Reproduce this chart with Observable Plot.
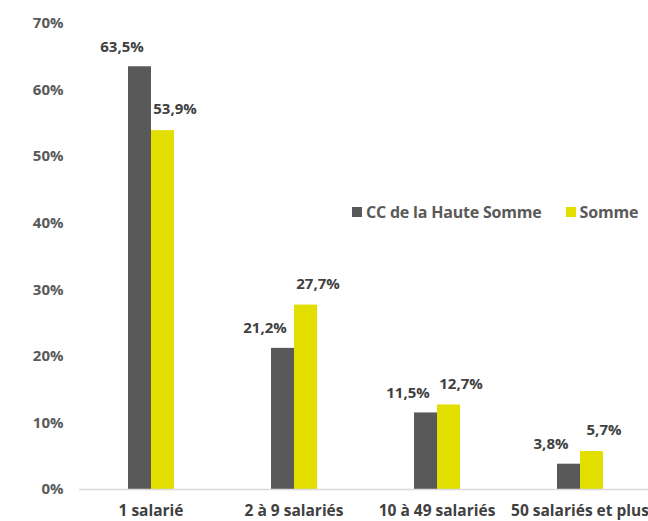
<!DOCTYPE html>
<html>
<head>
<meta charset="utf-8">
<script src="https://cdn.jsdelivr.net/npm/d3@7"></script>
<script src="https://cdn.jsdelivr.net/npm/@observablehq/plot@0.6"></script>
<style>
  body { margin: 0; background: #fff; }
  #wrap { position: relative; width: 648px; height: 521px; font-family: "Open Sans", Lato, sans-serif; }
  .legend { position: absolute; top: 201px; left: 352px; display: flex; align-items: center; font-weight: bold; font-size: 16px; line-height: 22px; color: #595959; white-space: nowrap; letter-spacing: -0.2px; }
  .legend .sw { display: inline-block; width: 10px; height: 10px; margin-right: 4px; }
  .legend .item { display: flex; align-items: center; }
</style>
</head>
<body>
<div id="wrap"></div>
<script>
const categories = ["1 salarié", "2 à 9 salariés", "10 à 49 salariés", "50 salariés et plus"];
const series = ["CC de la Haute Somme", "Somme"];
const ccValues = [63.5, 21.2, 11.5, 3.8];
const sommeValues = [53.9, 27.7, 12.7, 5.7];
const colors = ["#595959", "#e2de00"];
const yTicks = [0, 10, 20, 30, 40, 50, 60, 70];

const data = [];
categories.forEach((c, i) => {
  data.push({category: c, series: series[0], value: ccValues[i]});
  data.push({category: c, series: series[1], value: sommeValues[i]});
});
const fmt = v => v.toFixed(1).replace(".", ",") + "%";

const chart = Plot.plot({
  width: 648,
  height: 521,
  marginLeft: 78,
  marginRight: 0,
  marginTop: 23,
  marginBottom: 32,
  style: {fontFamily: "'Open Sans', Lato, sans-serif", fontSize: "15px", fontWeight: "bold", color: "#595959", background: "#fff", overflow: "visible"},
  fx: {domain: categories, range: [78, 652], padding: 0, label: null, axis: null},
  x: {domain: series, paddingInner: 0, paddingOuter: 2, axis: null},
  y: {domain: [0, 70], ticks: yTicks, label: null},
  color: {domain: series, range: colors},
  marks: [
    Plot.axisY({ticks: yTicks, tickSize: 0, tickPadding: 16, tickFormat: d => d + "%", label: null, fontSize: 15}),
    Plot.barY(data, {fx: "category", x: "series", y: "value", fill: "series"}),
    Plot.ruleY([0], {stroke: "#d9d9d9", strokeWidth: 1.5}),
    Plot.text(data.filter(d => d.series === series[0]), {fx: "category", x: "series", y: "value", text: d => fmt(d.value), dy: -20, dx: -18, fill: "#404040", fontSize: 15, fontWeight: "bold"}),
    Plot.text(data.filter(d => d.series === series[1]), {fx: "category", x: "series", y: "value", text: d => fmt(d.value), dy: -21, dx: 12, fill: "#404040", fontSize: 15, fontWeight: "bold"}),
    Plot.axisFx({domain: categories, anchor: "bottom", tickSize: 0, tickPadding: 15, label: null, fontSize: 15.5, fill: "#404040"})
  ]
});
const wrap = document.getElementById("wrap");
wrap.appendChild(chart);

const legend = document.createElement("div");
legend.className = "legend";
series.forEach((s, i) => {
  const item = document.createElement("span");
  item.className = "item";
  item.style.marginRight = i === 0 ? "24px" : "0";
  const sw = document.createElement("span");
  sw.className = "sw";
  sw.style.background = colors[i];
  item.appendChild(sw);
  item.appendChild(document.createTextNode(s));
  legend.appendChild(item);
});
wrap.appendChild(legend);
</script>
</body>
</html>
